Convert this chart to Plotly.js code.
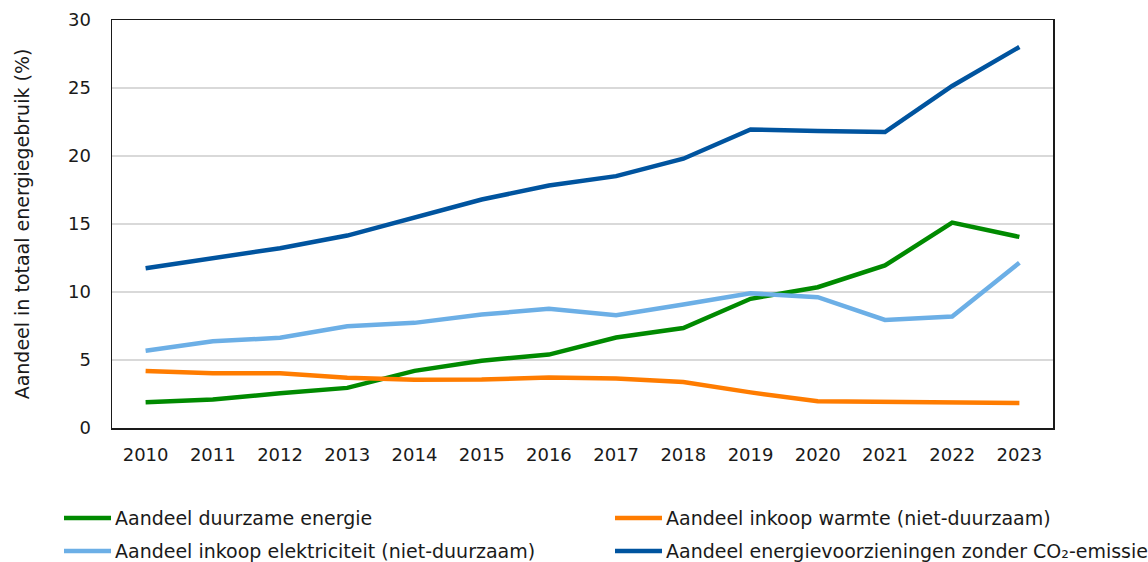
<!DOCTYPE html>
<html>
<head>
<meta charset="utf-8">
<script src="https://cdn.plot.ly/plotly-3.0.1.min.js"></script>
<style>html,body{margin:0;padding:0;background:#fff;} #chart{width:1148px;height:562px;}</style>
</head>
<body>
<div id="chart"></div>
<script>
const years = [2010, 2011, 2012, 2013, 2014, 2015, 2016, 2017, 2018, 2019, 2020, 2021, 2022, 2023];
const duurzaam = [1.9, 2.1, 2.55, 2.95, 4.2, 4.95, 5.4, 6.65, 7.35, 9.5, 10.35, 11.95, 15.1, 14.05];
const warmte = [4.2, 4.02, 4.02, 3.7, 3.55, 3.56, 3.72, 3.64, 3.38, 2.62, 1.96, 1.9, 1.84, 1.84];
const elektriciteit = [5.68, 6.38, 6.63, 7.48, 7.73, 8.34, 8.76, 8.3, 9.08, 9.9, 9.62, 7.95, 8.2, 12.15];
const zonderCO2 = [11.75, 12.52, 13.22, 14.15, 15.45, 16.8, 17.83, 18.52, 19.8, 21.95, 21.83, 21.76, 25.15, 28.02];
const seriesNames = [
  "Aandeel duurzame energie",
  "Aandeel inkoop warmte (niet-duurzaam)",
  "Aandeel inkoop elektriciteit (niet-duurzaam)",
  "Aandeel energievoorzieningen zonder CO₂-emissie"
];
const yTicks = [0, 5, 10, 15, 20, 25, 30];

const font = "DejaVu Sans, Verdana, sans-serif";
const colors = ["#008a00", "#ff7c00", "#6cafe6", "#00549f"];
const values = [duurzaam, warmte, elektriciteit, zonderCO2];

const W = 1148, H = 562;
const M = {l: 112, r: 95, t: 20, b: 134};
const PW = W - M.l - M.r, PH = H - M.t - M.b;
const px2x = p => (p - M.l) / PW;
const px2y = p => (H - M.b - p) / PH;

const traces = values.map((v, i) => ({
  x: years, y: v, name: seriesNames[i], type: "scatter", mode: "lines",
  line: {color: colors[i], width: 4.5}, hoverinfo: "skip", showlegend: false
}));

// manual two-column legend (cut off at right edge as in the reference)
const legPos = [[64, 518], [615, 518], [64, 551], [615, 551]];
const shapes = [], annotations = [];
seriesNames.forEach((n, i) => {
  const [lx, ly] = legPos[i];
  shapes.push({type: "line", xref: "paper", yref: "paper",
    x0: px2x(lx), x1: px2x(lx + 47), y0: px2y(ly), y1: px2y(ly),
    line: {color: colors[i], width: 4.5}});
  annotations.push({xref: "paper", yref: "paper", x: px2x(lx + 49), y: px2y(ly),
    xanchor: "left", yanchor: "middle", showarrow: false, text: n,
    font: {family: font, size: 19, color: "#1a1a1a"}});
});

const layout = {
  width: W, height: H,
  margin: M,
  paper_bgcolor: "#fff", plot_bgcolor: "#fff",
  font: {family: font, size: 18, color: "#1a1a1a"},
  showlegend: false,
  shapes: shapes, annotations: annotations,
  xaxis: {
    type: "linear", range: [2009.5, 2023.5], tickmode: "array", tickvals: years,
    ticktext: years.map(String), showgrid: false, zeroline: false, automargin: false,
    showline: true, linecolor: "#1a1a1a", linewidth: 1.5, mirror: true,
    ticks: "", ticklabelstandoff: 10, tickfont: {family: font, size: 18}
  },
  yaxis: {
    range: [0, 30], tickmode: "array", tickvals: yTicks, ticktext: yTicks.map(String),
    showgrid: true, gridcolor: "#d9d9d9", gridwidth: 1.3, zeroline: false, automargin: false,
    showline: true, linecolor: "#1a1a1a", linewidth: 1.5, mirror: true,
    ticks: "", ticklabelstandoff: 16, tickfont: {family: font, size: 18},
    title: {text: "Aandeel in totaal energiegebruik (%)", font: {family: font, size: 19}, standoff: 33}
  }
};

Plotly.newPlot("chart", traces, layout, {displayModeBar: false, staticPlot: true});
</script>
</body>
</html>
